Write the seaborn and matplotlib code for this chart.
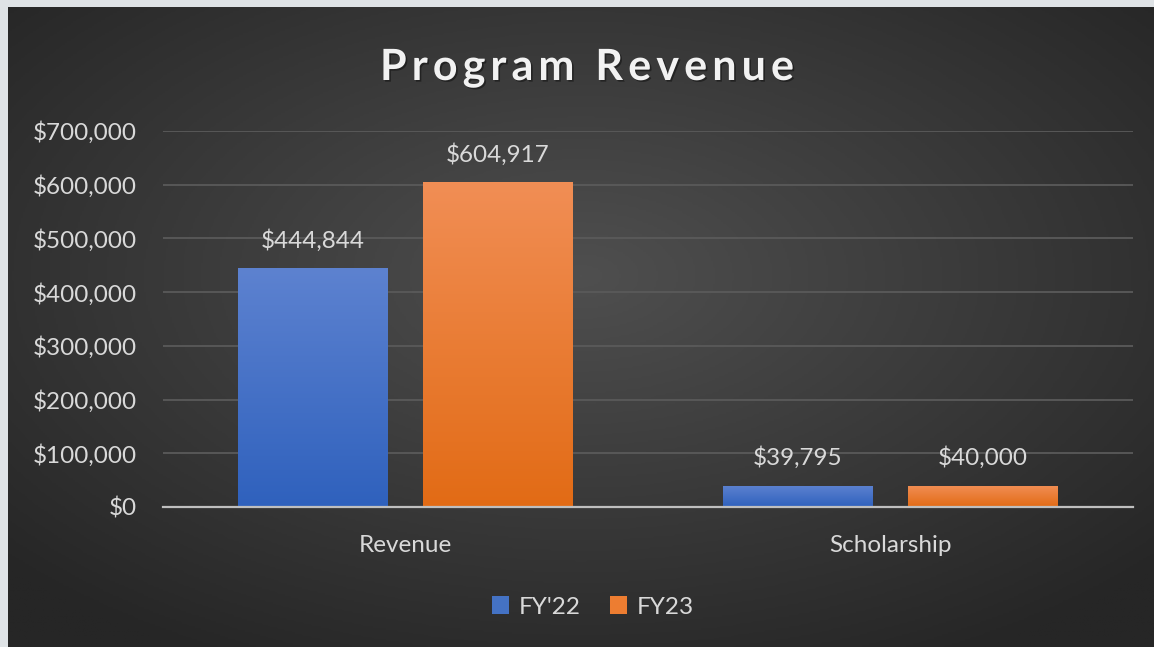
import numpy as np
import pandas as pd
import matplotlib.pyplot as plt
import matplotlib.patheffects as pe
from matplotlib.colors import LinearSegmentedColormap
from matplotlib.patches import Patch
import seaborn as sns

# chart data
categories = ["Revenue", "Scholarship"]
series = ["FY'22", "FY23"]
fy22 = [444844, 39795]
fy23 = [604917, 40000]
yticks = [0, 100000, 200000, 300000, 400000, 500000, 600000, 700000]
title = "Program Revenue"

df = pd.DataFrame({
    "Category": categories * 2,
    "Amount": fy22 + fy23,
    "Year": [series[0]] * 2 + [series[1]] * 2,
})

W, H = 1154, 647
sns.set_theme(style="white")
plt.rcParams["font.family"] = ["Lato", "DejaVu Sans"]

fig = plt.figure(figsize=(W / 100, H / 100), dpi=100, facecolor="#dfe3e6")

# dark radial background of the chart area
bx = fig.add_axes([8 / W, 0, 1 - 8 / W, 1 - 7 / H], zorder=0)
yy, xx = np.mgrid[0:1:300j, 0:1:600j]
r = np.sqrt(((xx - 0.5) / 0.8) ** 2 + ((yy - 0.42) / 0.8) ** 2)
bg = LinearSegmentedColormap.from_list("bg", ["#4f4f4f", "#262626"])
bx.imshow(r, cmap=bg, aspect="auto", extent=[0, 1, 0, 1], origin="upper", vmin=0, vmax=0.85)
bx.axis("off")

# plot area
ax = fig.add_axes([163 / W, (H - 507) / H, 970 / W, 376 / H], zorder=1)
ax.patch.set_alpha(0)

colors = ["#4472c4", "#ed7d31"]
sns.barplot(data=df, x="Category", y="Amount", hue="Year", palette=colors,
            width=0.763, gap=0.19, saturation=1, legend=False, ax=ax)

xlim = ax.get_xlim()
ax.set_ylim(0, 700000)

# vertical gradient fill for bars
grads = [("#5d82d0", "#2f61bd"), ("#f18e55", "#e26b15")]
for cont, (top, bot) in zip(ax.containers, grads):
    cmap = LinearSegmentedColormap.from_list("g", [top, bot])
    for bar in cont:
        bar.set_facecolor("none")
        bar.set_edgecolor("none")
        x0, w, h = bar.get_x(), bar.get_width(), bar.get_height()
        im = ax.imshow(np.linspace(0, 1, 256).reshape(-1, 1), cmap=cmap, aspect="auto",
                       extent=[x0, x0 + w, 0, h], origin="upper", zorder=2)
        im.set_clip_path(bar)
ax.set_xlim(xlim)
ax.set_ylim(0, 700000)

ax.set_yticks(yticks)
ax.set_yticklabels([f"${v:,}" for v in yticks])
ax.yaxis.grid(True, color="#5a5a5a", linewidth=1.3)
ax.set_axisbelow(True)
ax.set_xlabel("")
ax.set_ylabel("")
for s in ["top", "left", "right"]:
    ax.spines[s].set_visible(False)
ax.spines["bottom"].set_color("#bfbfbf")
ax.spines["bottom"].set_linewidth(1.6)
ax.spines["bottom"].set_zorder(3)
ax.tick_params(axis="y", length=0, pad=19, labelsize=17.5, labelcolor="#d9d9d9")
ax.tick_params(axis="x", length=0, pad=20, labelsize=17.5, labelcolor="#d9d9d9")

for cont, vals in zip(ax.containers, [fy22, fy23]):
    ax.bar_label(cont, labels=[f"${v:,}" for v in vals], padding=12,
                 color="#d9d9d9", fontsize=17.5)

# legend
handles = [Patch(facecolor=c, edgecolor="none") for c in colors]
fig.legend(handles, series, loc="center", bbox_to_anchor=(593 / W, 1 - 607 / H),
           ncol=2, frameon=False, handlelength=0.7, handleheight=0.7,
           handletextpad=0.4, columnspacing=1.2, fontsize=17.5, labelcolor="#d9d9d9")

# letter-spaced title
renderer = fig.canvas.get_renderer()
fs = 31
widths = []
for ch in title:
    if ch == " ":
        widths.append(fs * 1.389 * 0.25)
        continue
    t = fig.text(0, 0, ch, fontsize=fs, fontweight="bold")
    widths.append(t.get_window_extent(renderer).width)
    t.remove()
target = 414
spacing = (target - sum(widths)) / (len(title) - 1)
xpos = 380
shadow = [pe.withSimplePatchShadow(offset=(1.2, -1.2), shadow_rgbFace="black", alpha=0.4)]
for ch, w in zip(title, widths):
    if ch != " ":
        fig.text(xpos / W, 1 - 80 / H, ch, fontsize=fs, fontweight="bold",
                 color="#f2f2f2", va="baseline", ha="left", path_effects=shadow)
    xpos += w + spacing

fig.savefig("out.png", dpi=100, facecolor=fig.get_facecolor())
